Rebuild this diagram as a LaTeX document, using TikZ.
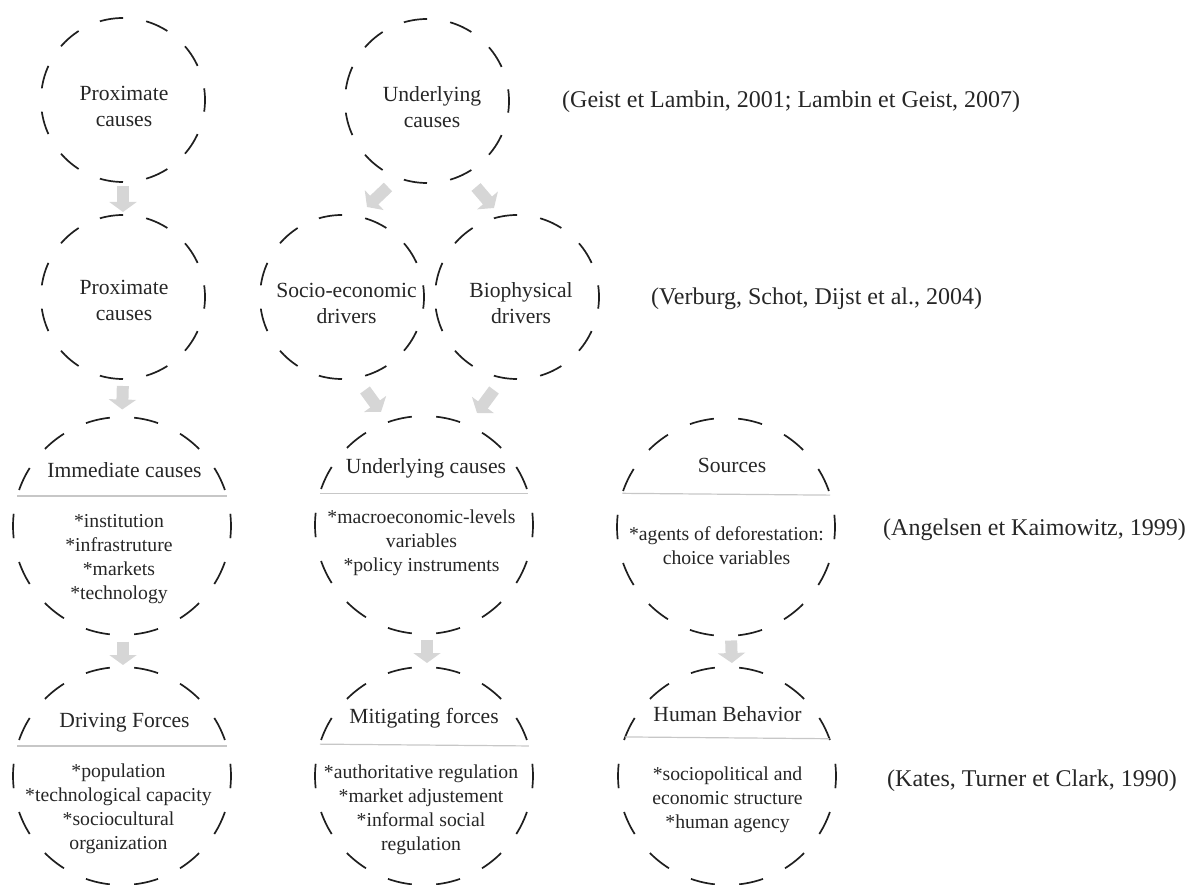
\documentclass[tikz,border=0pt]{standalone}
\usepackage{fontspec}
\setmainfont{Liberation Serif}
\usetikzlibrary{arrows.meta}
\newcommand\mlines[1]{\begin{tabular}[t]{@{}c@{}}#1\end{tabular}}
\begin{document}
\begin{tikzpicture}[x=1pt,y=-1pt,
  ringbase/.style={circle, draw=black!88, line width=1.7pt, inner sep=0pt, outer sep=0pt},
  smallring/.style={ringbase, minimum size=164pt, dash pattern=on 23.42pt off 23.42pt, dash phase=11.71pt},
  bigring/.style={ringbase, minimum size=218pt, dash pattern=on 24.46pt off 24.46pt, dash phase=12.23pt},
  titletext/.style={inner sep=0pt, anchor=base, text=black!85, font=\rmfamily\fontsize{21.6}{25.5}\selectfont},
  itemtext/.style={inner sep=0pt, anchor=base, text=black!85, font=\rmfamily\fontsize{19.7}{24}\selectfont},
  citetext/.style={inner sep=0pt, anchor=base west, text=black!85, font=\rmfamily\fontsize{24}{28}\selectfont},
  divider/.style={draw=black!22, line width=1.2pt},
  bigarrow/.style={draw=black!16, line width=12pt, -{Triangle[width=27pt,length=10pt]}}
]
\path[use as bounding box] (0,0) rectangle (1186,885);

% circles
\node[smallring] (p1) at (123,100) {};
\node[smallring] (u1) at (427,101) {};
\node[smallring] (p2) at (123,297) {};
\node[smallring] (se2) at (342,297) {};
\node[smallring] (bp2) at (517,297) {};
\node[bigring] (ic3) at (122,526) {};
\node[bigring] (uc3) at (424,525) {};
\node[bigring] (so3) at (726,527) {};
\node[bigring] (df4) at (122,776) {};
\node[bigring] (mf4) at (424,776) {};
\node[bigring] (hb4) at (727,776) {};

% dividers
\draw[divider] (ic3.164) -- (ic3.16);
\draw[divider] (uc3.163) -- (uc3.17);
\draw[divider] (so3.162.4) -- (so3.17.6);
\draw[divider] (df4.164) -- (df4.16);
\draw[divider] (mf4.163.4) -- (mf4.16.6);
\draw[divider] (hb4.159.6) -- (hb4.20.4);

% texts
\node[titletext] (p1t) at (124,101) {\mlines{Proximate\\causes}};
\node[titletext] (u1t) at (432,102) {\mlines{Underlying\\causes}};
\node[titletext] (p2t) at (124,295) {\mlines{Proximate\\causes}};
\node[titletext] (se2t) at (346.5,298) {\mlines{Socio-economic\\drivers}};
\node[titletext] (bp2t) at (521,298) {\mlines{Biophysical\\drivers}};

\node[titletext] (ic3t) at (124.5,477) {Immediate causes};
\node[itemtext] (ic3i) at (119,527) {\mlines{*institution\\{}*infrastruture\\{}*markets\\{}*technology}};
\node[titletext] (uc3t) at (426,473) {Underlying causes};
\node[itemtext] (uc3i) at (421.5,523) {\mlines{*macroeconomic-levels\\variables\\{}*policy instruments}};
\node[titletext] (so3t) at (732,472) {Sources};
\node[itemtext] (so3i) at (726.5,540) {\mlines{*agents of deforestation:\\choice variables}};

\node[titletext] (df4t) at (124.5,727) {Driving Forces};
\node[itemtext] (df4i) at (118.5,777) {\mlines{*population\\{}*technological capacity\\{}*sociocultural\\organization}};
\node[titletext] (mf4t) at (424,723) {Mitigating forces};
\node[itemtext] (mf4i) at (421,778) {\mlines{*authoritative regulation\\{}*market adjustement\\{}*informal social\\regulation}};
\node[titletext] (hb4t) at (727.5,721) {Human Behavior};
\node[itemtext] (hb4i) at (727.5,780) {\mlines{*sociopolitical and\\economic structure\\{}*human agency}};

% citations
\node[citetext] (cite1) at (562,108) {(Geist et Lambin, 2001; Lambin et Geist, 2007)};
\node[citetext] (cite2) at (651,305) {(Verburg, Schot, Dijst et al., 2004)};
\node[citetext] (cite3) at (883,535) {(Angelsen et Kaimowitz, 1999)};
\node[citetext] (cite4) at (887,786) {(Kates, Turner et Clark, 1990)};

% arrows
\draw[bigarrow, shorten <=4pt, shorten >=3pt] (p1.south) -- (p2.north);
\draw[bigarrow, shorten <=7pt, shorten >=7.5pt] (p2.south) -- (ic3.north);
\draw[bigarrow, shorten <=6.5pt, shorten >=2pt] ([xshift=1pt]ic3.south) -- ([xshift=1pt]df4.north);
\draw[bigarrow, shorten <=5.5pt, shorten >=4pt] ([xshift=3pt]uc3.south) -- ([xshift=3pt]mf4.north);
\draw[bigarrow, shorten <=4.5pt, shorten >=4pt] ([xshift=5pt]so3.south) -- ([xshift=5pt]hb4.north);

\coordinate (b1Ls) at (388,187);
\coordinate (b1Le) at (367,207);
\coordinate (b1Rs) at (476,187);
\coordinate (b1Re) at (494,208);
\coordinate (b2Ls) at (365,390);
\coordinate (b2Le) at (381,412);
\coordinate (b2Rs) at (494,390);
\coordinate (b2Re) at (477,413);
\draw[bigarrow] (b1Ls) -- (b1Le);
\draw[bigarrow] (b1Rs) -- (b1Re);
\draw[bigarrow] (b2Ls) -- (b2Le);
\draw[bigarrow] (b2Rs) -- (b2Re);
\end{tikzpicture}
\end{document}
